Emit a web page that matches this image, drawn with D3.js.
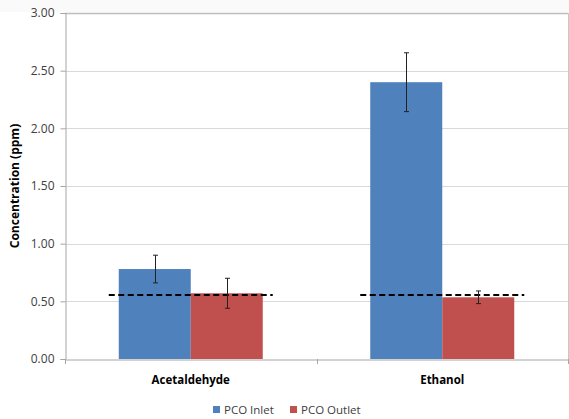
<!DOCTYPE html>
<html><head><meta charset="utf-8">
<script src="https://cdn.jsdelivr.net/npm/d3@7"></script>
<style>body{margin:0;background:#fff}svg{display:block}text{font-family:"Open Sans",sans-serif}</style>
</head><body><svg id="c" width="569" height="419"></svg>
<script>
const categories = ["Acetaldehyde", "Ethanol"];
const seriesNames = ["PCO Inlet", "PCO Outlet"];
const seriesColors = ["#4F81BD", "#C0504D"];
const inletValues = [0.78, 2.40];
const inletErrors = [0.12, 0.255];
const outletValues = [0.57, 0.535];
const outletErrors = [0.13, 0.055];
const thresholdValues = [0.555, 0.555];
const yTicks = [0, 0.5, 1, 1.5, 2, 2.5, 3];
const yTitle = "Concentration (ppm)";

const svg = d3.select("#c");
const L = 65, R = 568, T = 13, B = 359;
const x = d3.scaleBand().domain(categories).range([L, R]).paddingInner(0).paddingOuter(0);
const y = d3.scaleLinear().domain([0, 3]).range([B, T]);
const inner = d3.scaleBand().domain(seriesNames).range([0, x.bandwidth()]).paddingOuter(0.7465).paddingInner(0);

// top strip
svg.append("rect").attr("x",0).attr("y",0).attr("width",569).attr("height",12).attr("fill","#fafafa");
// gridlines
svg.append("g").selectAll("line").data(yTicks.filter(d=>d>0)).join("line")
  .attr("x1",L).attr("x2",R).attr("y1",d=>Math.round(y(d))+0.5).attr("y2",d=>Math.round(y(d))+0.5)
  .attr("stroke",d=>d===3?"#bdbdbd":"#d9d9d9").attr("stroke-width",d=>d===3?1.5:1);
// right border
svg.append("line").attr("x1",R+0.5).attr("x2",R+0.5).attr("y1",T).attr("y2",B+4).attr("stroke","#c8c8c8");

// y axis
const yAxis = d3.axisLeft(y).tickValues(yTicks).tickFormat(d3.format(".2f")).tickSize(5).tickPadding(6);
const gy = svg.append("g").attr("transform",`translate(${L+0.5},0)`).call(yAxis);
gy.select(".domain").attr("stroke","#a6a6a6");
gy.selectAll(".tick line").attr("stroke","#a6a6a6");
gy.selectAll(".tick text").attr("fill","#404040").style("font-size","12px").style("font-family","Open Sans");

// x axis
const gx = svg.append("g").attr("transform",`translate(0,${B+0.5})`)
  .call(d3.axisBottom(x).tickSize(0).tickPadding(16));
gx.select(".domain").attr("stroke","#a6a6a6");
gx.selectAll(".tick text").attr("fill","#000").style("font-size","11.5px").style("font-weight","bold").style("font-family","Open Sans");
svg.append("g").selectAll("line").data([L, x("Ethanol"), R]).join("line")
  .attr("x1",d=>Math.round(d)+0.5).attr("x2",d=>Math.round(d)+0.5).attr("y1",B).attr("y2",B+5).attr("stroke","#a6a6a6");

// bars
const series = [
  {name: seriesNames[0], color: seriesColors[0], vals: inletValues, errs: inletErrors},
  {name: seriesNames[1], color: seriesColors[1], vals: outletValues, errs: outletErrors}
];
series.forEach(s => {
  const g = svg.append("g");
  g.selectAll("rect").data(categories).join("rect")
    .attr("x",(c)=>x(c)+inner(s.name)).attr("width",inner.bandwidth())
    .attr("y",(c,i)=>y(s.vals[i])).attr("height",(c,i)=>B-y(s.vals[i]))
    .attr("fill",s.color);
});

// threshold dashed lines
svg.append("g").selectAll("line").data(categories).join("line")
  .attr("x1",c=>x(c)+inner(seriesNames[0])-10).attr("x2",c=>x(c)+inner(seriesNames[1])+inner.bandwidth()+10)
  .attr("y1",(c,i)=>y(thresholdValues[i])).attr("y2",(c,i)=>y(thresholdValues[i]))
  .attr("stroke","#000").attr("stroke-width",2).attr("stroke-dasharray","6,3.5");

// error bars
series.forEach(s => {
  const g = svg.append("g").attr("stroke","#222").attr("stroke-width",1);
  categories.forEach((c,i) => {
    const cx = Math.round(x(c)+inner(s.name)+inner.bandwidth()/2)+0.5;
    const y1 = y(s.vals[i]+s.errs[i]), y2 = y(s.vals[i]-s.errs[i]);
    g.append("line").attr("x1",cx).attr("x2",cx).attr("y1",y1).attr("y2",y2);
    g.append("line").attr("x1",cx-2.5).attr("x2",cx+2.5).attr("y1",y1).attr("y2",y1);
    g.append("line").attr("x1",cx-2.5).attr("x2",cx+2.5).attr("y1",y2).attr("y2",y2);
  });
});

// y title
svg.append("text").attr("transform",`translate(19,${(T+B)/2}) rotate(-90)`)
  .attr("text-anchor","middle").style("font-size","12px").style("font-weight","bold").attr("fill","#000").text(yTitle);

// legend
const lg = svg.append("g");
const legendX = [213, 290];
seriesNames.forEach((n,i) => {
  lg.append("rect").attr("x",legendX[i]).attr("y",406).attr("width",7).attr("height",7).attr("fill",seriesColors[i]);
  lg.append("text").attr("x",legendX[i]+11).attr("y",413.5).style("font-size","11.5px").attr("fill","#404040").text(n);
});
</script></body></html>
